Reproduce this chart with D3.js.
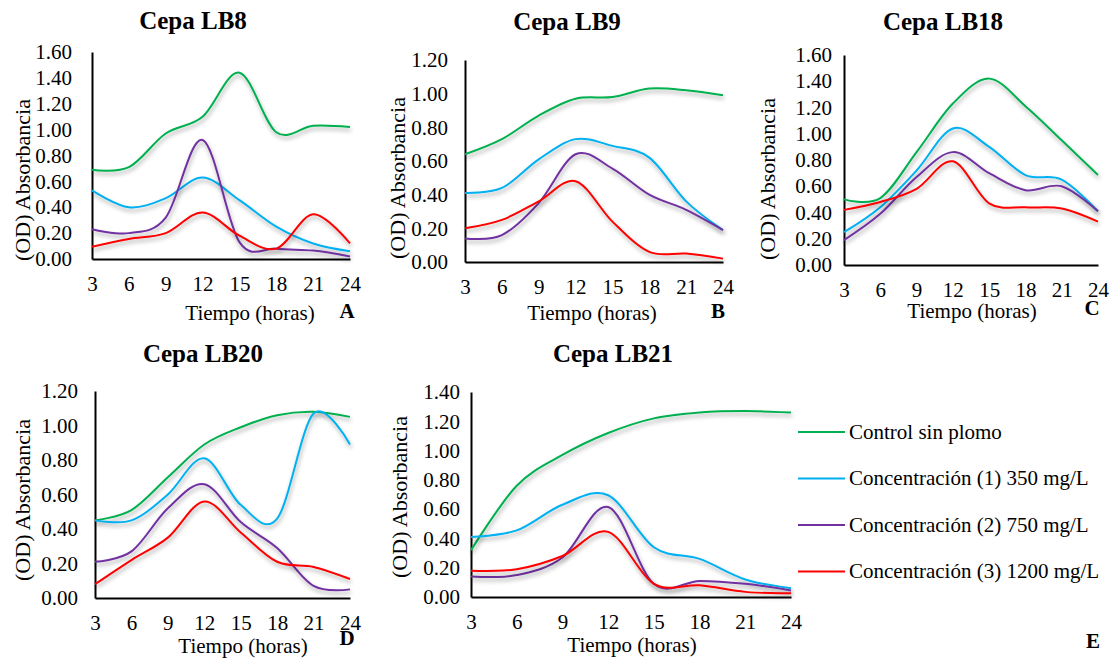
<!DOCTYPE html>
<html>
<head>
<meta charset="utf-8">
<script src="https://cdn.jsdelivr.net/npm/d3@7"></script>
<style>
  body { margin: 0; background: #fff; }
  svg { display: block; }
  text { font-family: "Liberation Serif", "Times New Roman", serif; fill: #000; }
</style>
</head>
<body>
<svg id="chart" width="1111" height="658"></svg>
<script>
// hours sampled
const hours = [3, 6, 9, 12, 15, 18, 21, 24]

const seriesNames = [
  "Control sin plomo",
  "Concentración (1) 350 mg/L",
  "Concentración (2) 750 mg/L",
  "Concentración (3) 1200 mg/L"
]
const seriesColors = ["#00B050", "#00B0F0", "#7030A0", "#FF0000"]

const panelTitles = ["Cepa LB8", "Cepa LB9", "Cepa LB18", "Cepa LB20", "Cepa LB21"]
const panelLetters = ["A", "B", "C", "D", "E"]
const yMaxima = [1.6, 1.2, 1.6, 1.2, 1.4]

// absorbance values
const lb8Control = [0.69, 0.71, 0.97, 1.10, 1.44, 0.98, 1.03, 1.02]
const lb8C350    = [0.53, 0.40, 0.47, 0.63, 0.455, 0.25, 0.12, 0.06]
const lb8C750    = [0.23, 0.20, 0.32, 0.92, 0.13, 0.08, 0.065, 0.02]
const lb8C1200   = [0.095, 0.155, 0.20, 0.36, 0.18, 0.08, 0.345, 0.12]

const lb9Control = [0.64, 0.73, 0.87, 0.97, 0.98, 1.03, 1.02, 0.99]
const lb9C350    = [0.41, 0.44, 0.61, 0.73, 0.69, 0.62, 0.36, 0.19]
const lb9C750    = [0.14, 0.16, 0.35, 0.64, 0.555, 0.40, 0.31, 0.19]
const lb9C1200   = [0.20, 0.25, 0.36, 0.48, 0.24, 0.06, 0.05, 0.02]

const lb18Control = [0.50, 0.51, 0.86, 1.23, 1.42, 1.21, 0.95, 0.685]
const lb18C350    = [0.25, 0.44, 0.72, 1.04, 0.90, 0.685, 0.65, 0.41]
const lb18C750    = [0.19, 0.39, 0.67, 0.86, 0.70, 0.57, 0.60, 0.41]
const lb18C1200   = [0.42, 0.48, 0.58, 0.79, 0.47, 0.44, 0.43, 0.33]

const lb20Control = [0.45, 0.51, 0.70, 0.89, 0.99, 1.06, 1.08, 1.05]
const lb20C350    = [0.45, 0.45, 0.60, 0.81, 0.54, 0.46, 1.07, 0.89]
const lb20C750    = [0.21, 0.27, 0.52, 0.66, 0.44, 0.29, 0.07, 0.05]
const lb20C1200   = [0.08, 0.22, 0.35, 0.56, 0.38, 0.21, 0.18, 0.11]

const lb21Control = [0.32, 0.76, 0.97, 1.12, 1.22, 1.26, 1.27, 1.26]
const lb21C350    = [0.41, 0.455, 0.63, 0.695, 0.34, 0.26, 0.12, 0.06]
const lb21C750    = [0.14, 0.15, 0.27, 0.615, 0.09, 0.11, 0.09, 0.045]
const lb21C1200   = [0.18, 0.19, 0.28, 0.445, 0.09, 0.08, 0.035, 0.025]

const panelSeries = [
  [lb8Control, lb8C350, lb8C750, lb8C1200],
  [lb9Control, lb9C350, lb9C750, lb9C1200],
  [lb18Control, lb18C350, lb18C750, lb18C1200],
  [lb20Control, lb20C350, lb20C750, lb20C1200],
  [lb21Control, lb21C350, lb21C750, lb21C1200]
]

// where each small chart sits on the page
const layout = [
  { x0: 92, x1: 350, y0: 52, y1: 259, pad: 20, titleX: 193, titleY: 29, yLabX: 30, yLabY: 180, xLabX: 250, xLabY: 320, letX: 347, letY: 318 },
  { x0: 465, x1: 723, y0: 60, y1: 262, pad: 17, titleX: 567, titleY: 30, yLabX: 405, yLabY: 178, xLabX: 592, xLabY: 320, letX: 718, letY: 318 },
  { x0: 844, x1: 1098, y0: 55, y1: 265, pad: 12, titleX: 943, titleY: 30, yLabX: 775, yLabY: 179, xLabX: 972, xLabY: 318, letX: 1092, letY: 315 },
  { x0: 95, x1: 350, y0: 391, y1: 598, pad: 17, titleX: 203, titleY: 362, yLabX: 30, yLabY: 500, xLabX: 243, xLabY: 653, letX: 347, letY: 645 },
  { x0: 471, x1: 791, y0: 392, y1: 597, pad: 11, titleX: 613, titleY: 362, yLabX: 407, yLabY: 497, xLabX: 632, xLabY: 652, letX: 1093, letY: 648 }
]

const svg = d3.select("#chart")
const fmt = d3.format(".2f")

const defs = svg.append("defs")
defs.append("filter")
  .attr("id", "shadow")
  .attr("x", "-10%").attr("y", "-20%")
  .attr("width", "130%").attr("height", "160%")
  .append("feDropShadow")
  .attr("dx", 1).attr("dy", 3)
  .attr("stdDeviation", 2)
  .attr("flood-color", "#000")
  .attr("flood-opacity", 0.35)

panelSeries.forEach((series, p) => {
  let L = layout[p]
  let x = d3.scaleLinear().domain([3, 24]).range([L.x0, L.x1])
  let y = d3.scaleLinear().domain([0, yMaxima[p]]).range([L.y1, L.y0])
  let g = svg.append("g")

  // y axis
  let yAxis = d3.axisLeft(y)
    .tickValues(d3.range(0, yMaxima[p] + 0.001, 0.2))
    .tickFormat(fmt)
    .tickSize(0)
    .tickPadding(L.pad)
  let ya = g.append("g").attr("transform", `translate(${L.x0},0)`).call(yAxis)
  ya.select(".domain").attr("stroke", "#000").attr("stroke-width", 2)
  ya.selectAll("text").style("font-family", '"Liberation Serif", serif').style("font-size", "21px")

  // x axis
  let xAxis = d3.axisBottom(x)
    .tickValues(hours)
    .tickSize(0)
    .tickPadding(17)
  let xa = g.append("g").attr("transform", `translate(0,${L.y1})`).call(xAxis)
  xa.select(".domain").attr("stroke", "#000").attr("stroke-width", 2)
  xa.selectAll("text").style("font-family", '"Liberation Serif", serif').style("font-size", "21px")

  let line = d3.line()
    .x((d, i) => x(hours[i]))
    .y(d => y(d))
    .curve(d3.curveCardinal.tension(0))

  g.selectAll(".series")
    .data(series)
    .enter()
    .append("path")
    .attr("class", "series")
    .attr("d", line)
    .attr("fill", "none")
    .attr("stroke", (d, i) => seriesColors[i])
    .attr("stroke-width", 2)
    .attr("filter", "url(#shadow)")

  g.append("text")
    .attr("x", L.titleX).attr("y", L.titleY)
    .attr("text-anchor", "middle")
    .style("font-size", "25px").style("font-weight", "bold")
    .text(panelTitles[p])

  g.append("text")
    .attr("transform", `translate(${L.yLabX},${L.yLabY}) rotate(-90)`)
    .attr("text-anchor", "middle")
    .style("font-size", "22px")
    .text("(OD) Absorbancia")

  g.append("text")
    .attr("x", L.xLabX).attr("y", L.xLabY)
    .attr("text-anchor", "middle")
    .style("font-size", "21px")
    .text("Tiempo (horas)")

  g.append("text")
    .attr("x", L.letX).attr("y", L.letY)
    .attr("text-anchor", "middle")
    .style("font-size", "21px").style("font-weight", "bold")
    .text(panelLetters[p])
})

// legend
let legend = svg.append("g").attr("transform", "translate(798,432)")
let rows = legend.selectAll(".row")
  .data(seriesNames)
  .enter()
  .append("g")
  .attr("class", "row")
  .attr("transform", (d, i) => `translate(0,${i * 46.5})`)
rows.append("line")
  .attr("x1", 0).attr("x2", 47)
  .attr("stroke", (d, i) => seriesColors[i])
  .attr("stroke-width", 2)
rows.append("text")
  .attr("x", 51).attr("dy", "0.33em")
  .style("font-size", "21px")
  .text(d => d)
</script>
</body>
</html>
